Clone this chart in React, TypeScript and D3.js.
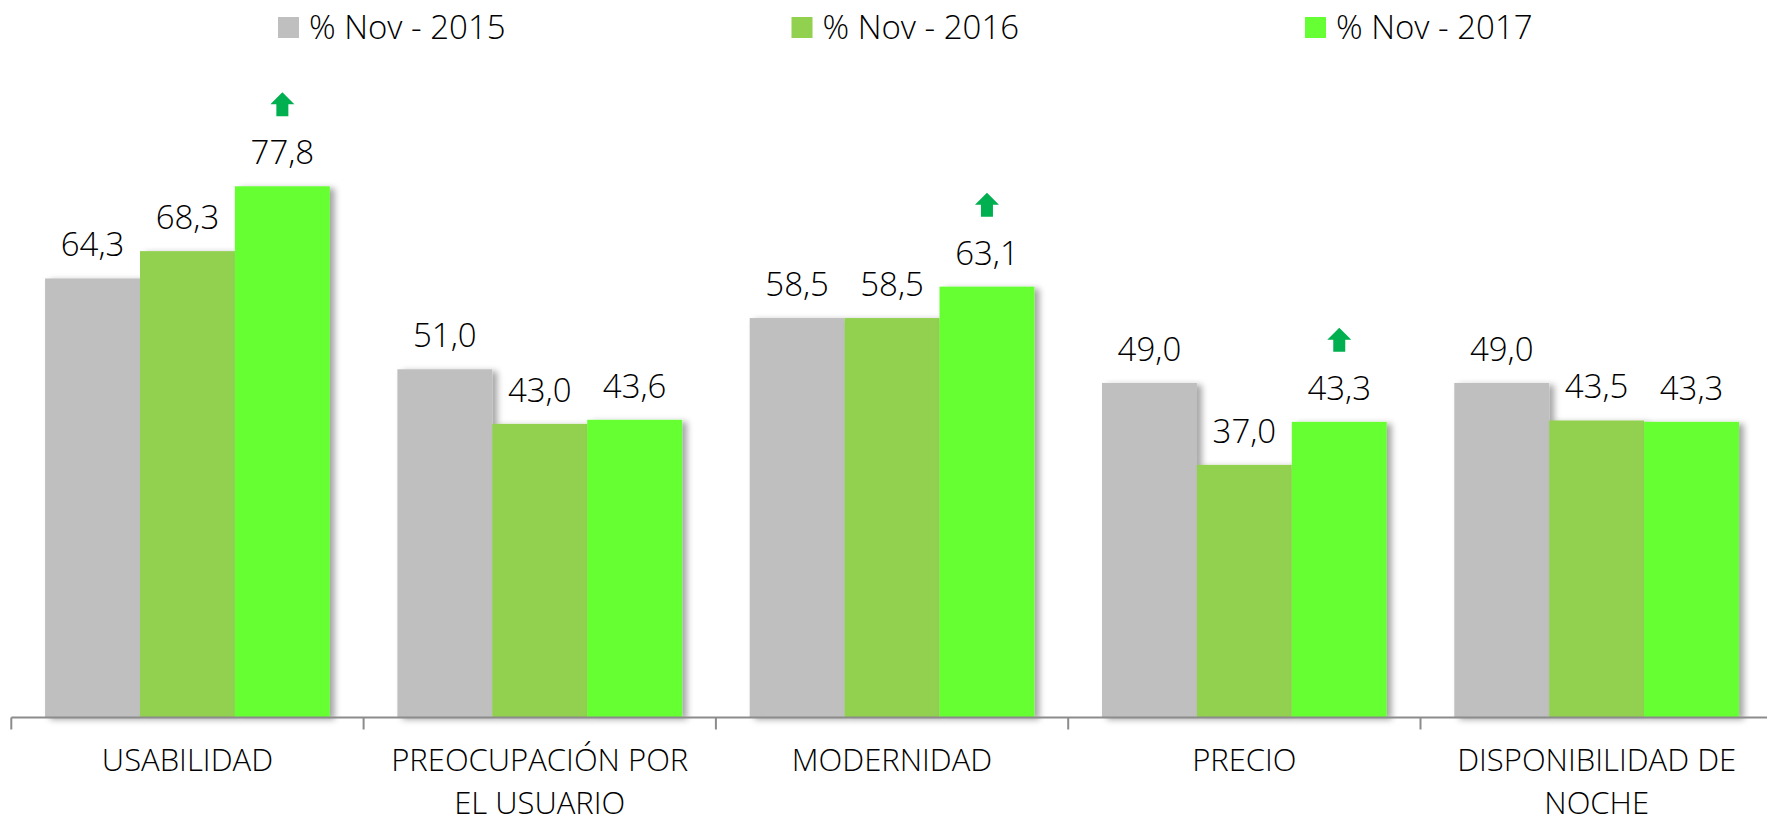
import { scaleBand, scaleLinear, line } from 'd3';

const categories = ['USABILIDAD', 'PREOCUPACIÓN POR EL USUARIO', 'MODERNIDAD', 'PRECIO', 'DISPONIBILIDAD DE NOCHE'];
const categoryLines = [['USABILIDAD'], ['PREOCUPACIÓN POR', 'EL USUARIO'], ['MODERNIDAD'], ['PRECIO'], ['DISPONIBILIDAD DE', 'NOCHE']];
const seriesNames = ['% Nov - 2015', '% Nov - 2016', '% Nov - 2017'];
const nov2015 = [64.3, 51.0, 58.5, 49.0, 49.0];
const nov2016 = [68.3, 43.0, 58.5, 37.0, 43.5];
const nov2017 = [77.8, 43.6, 63.1, 43.3, 43.3];
const upArrows = [true, false, true, true, false];

const WIDTH = 1767;
const HEIGHT = 823;
const COLORS = ['#BFBFBF', '#92D050', '#66FF33'];
const ARROW = '#00B050';
const FONT = '"Open Sans", "Noto Sans", sans-serif';
const TEXT = '#000000';

const fmt = (v: number) => v.toFixed(1).replace('.', ',');

// arrow outline around its centre: 24 wide, head 12 high, shaft 12 wide
const arrowPts: [number, number][] = [
  [0, -12], [12, 0], [6, 0], [6, 12], [-6, 12], [-6, 0], [-12, 0], [0, -12],
];

export default function App() {
  const x0 = scaleBand<string>().domain(categories).range([11.3, 1772.8]).padding(0);
  const x1 = scaleBand<string>().domain(seriesNames).range([0, x0.bandwidth()]).paddingInner(0).paddingOuter(0.356);
  const y = scaleLinear().domain([0, 100]).range([717.5, 34.7]);
  const values = [nov2015, nov2016, nov2017];
  const arrowPath = line()(arrowPts) || '';
  const baseY = y(0);

  return (
    <svg
      width={WIDTH}
      height={HEIGHT}
      style={{ position: 'fixed', left: 0, top: 0, background: '#fff', display: 'block' }}
      fontFamily={FONT}
    >
      <defs>
        <filter id="shadow" x="-10%" y="-10%" width="130%" height="130%">
          <feDropShadow dx="5" dy="2" stdDeviation="3" floodColor="#000" floodOpacity="0.35" />
        </filter>
      </defs>
      <rect width={WIDTH} height={HEIGHT} fill="#fff" />

      {/* legend */}
      {seriesNames.map((s, i) => (
        <g key={s} transform={`translate(${278 + i * 513.5}, 0)`}>
          <rect x={0} y={17} width={21} height={21} fill={COLORS[i]} />
          <text x={31} y={39} fontSize={33} fill={TEXT} fontWeight={350}>{s}</text>
        </g>
      ))}

      {/* bars */}
      {categories.map((c, ci) => (
        <g key={c} transform={`translate(${x0(c)}, 0)`}>
          {seriesNames.map((s, si) => {
            const v = values[si][ci];
            return (
              <rect
                key={s}
                x={x1(s)}
                y={y(v)}
                width={x1.bandwidth()}
                height={baseY - y(v)}
                fill={COLORS[si]}
                filter="url(#shadow)"
              />
            );
          })}
          {seriesNames.map((s, si) => {
            const v = values[si][ci];
            return (
              <text
                key={s}
                x={(x1(s) || 0) + x1.bandwidth() / 2}
                y={y(v) - 22}
                textAnchor="middle"
                fontSize={33}
                fontWeight={350}
                fill={TEXT}
              >
                {fmt(v)}
              </text>
            );
          })}
          {upArrows[ci] && (
            <path
              d={arrowPath}
              fill={ARROW}
              transform={`translate(${(x1(seriesNames[2]) || 0) + x1.bandwidth() / 2}, ${y(nov2017[ci]) - 82})`}
            />
          )}
        </g>
      ))}

      {/* axis */}
      <line x1={x0.range()[0]} x2={x0.range()[1]} y1={baseY} y2={baseY} stroke="#8C8C8C" strokeWidth={2} />
      {categories.map((c) => (
        <line key={c} x1={x0(c)} x2={x0(c)} y1={baseY} y2={baseY + 12} stroke="#8C8C8C" strokeWidth={2} />
      ))}
      {categories.map((c, ci) =>
        categoryLines[ci].map((l, li) => (
          <text
            key={`${c}-${li}`}
            x={(x0(c) || 0) + x0.bandwidth() / 2}
            y={771 + li * 42.5}
            textAnchor="middle"
            fontSize={31}
            fontWeight={350}
            fill={TEXT}
          >
            {l}
          </text>
        )),
      )}
    </svg>
  );
}
